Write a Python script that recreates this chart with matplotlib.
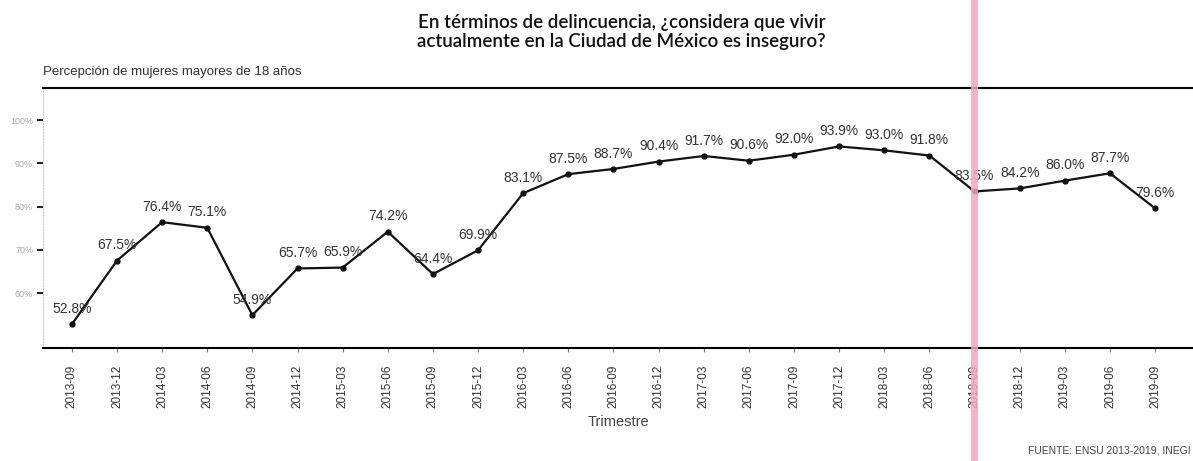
import matplotlib.pyplot as plt
from matplotlib.lines import Line2D

plt.rcParams['font.family'] = ['Liberation Sans', 'DejaVu Sans']

# Datos: percepción de inseguridad, mujeres mayores de 18 años
trimestres = ['2013-09', '2013-12', '2014-03', '2014-06', '2014-09', '2014-12',
              '2015-03', '2015-06', '2015-09', '2015-12', '2016-03', '2016-06',
              '2016-09', '2016-12', '2017-03', '2017-06', '2017-09', '2017-12',
              '2018-03', '2018-06', '2018-09', '2018-12', '2019-03', '2019-06',
              '2019-09']
porcentajes = [52.8, 67.5, 76.4, 75.1, 54.9, 65.7, 65.9, 74.2, 64.4, 69.9,
               83.1, 87.5, 88.7, 90.4, 91.7, 90.6, 92.0, 93.9, 93.0, 91.8,
               83.5, 84.2, 86.0, 87.7, 79.6]
y_ticks = [60, 70, 80, 90, 100]

fig = plt.figure(figsize=(11.93, 4.61), dpi=100)
ax = fig.add_axes([0.036, 0.245, 0.964, 0.564])

x = list(range(len(trimestres)))
ax.plot(x, porcentajes, color='#111111', linewidth=1.6, marker='o', markersize=3.5)

for xi, v in zip(x, porcentajes):
    ax.annotate(f'{v:.1f}%', (xi, v), xytext=(0, 6), textcoords='offset points',
                ha='center', va='bottom', fontsize=10, color='#333333')

ax.set_xlim(-0.64, 24.84)
ax.set_ylim(47.3, 107.4)

ax.set_xticks(x)
ax.set_xticklabels(trimestres, rotation=90, fontsize=8.5, color='#333333')
ax.set_yticks(y_ticks)
ax.set_yticklabels([f'{t}%' for t in y_ticks], fontsize=6.5, color='#aaaaaa')
ax.tick_params(axis='x', length=3, color='#777777', pad=9)
ax.tick_params(axis='y', length=4, width=1.5, color='#222222', pad=3)

ax.spines['top'].set_linewidth(1.5)
ax.spines['bottom'].set_linewidth(1.5)
ax.spines['left'].set_color('#cccccc')
ax.spines['left'].set_linestyle(':')
ax.spines['right'].set_visible(False)

ax.set_xlabel('Trimestre', fontsize=10.5, color='#444444', labelpad=5)

fig.text(0.521, 0.97, 'En términos de delincuencia, ¿considera que vivir\n'
         'actualmente en la Ciudad de México es inseguro?',
         ha='center', va='top', fontsize=13.5, color='#111111', linespacing=1.15,
         family=['Lato', 'Liberation Sans'], fontweight='semibold')
fig.text(0.036, 0.83, 'Percepción de mujeres mayores de 18 años',
         ha='left', va='bottom', fontsize=9.5, color='#333333')
fig.text(0.998, 0.012, 'FUENTE: ENSU 2013-2019, INEGI',
         ha='right', va='bottom', fontsize=7.5, color='#444444')

# franja rosa del escaneo
fig.add_artist(Line2D([0.8165, 0.8165], [0, 1], transform=fig.transFigure,
                      color='#f4a6c0', linewidth=5, alpha=0.85))

fig.savefig('out.png', dpi=100)
